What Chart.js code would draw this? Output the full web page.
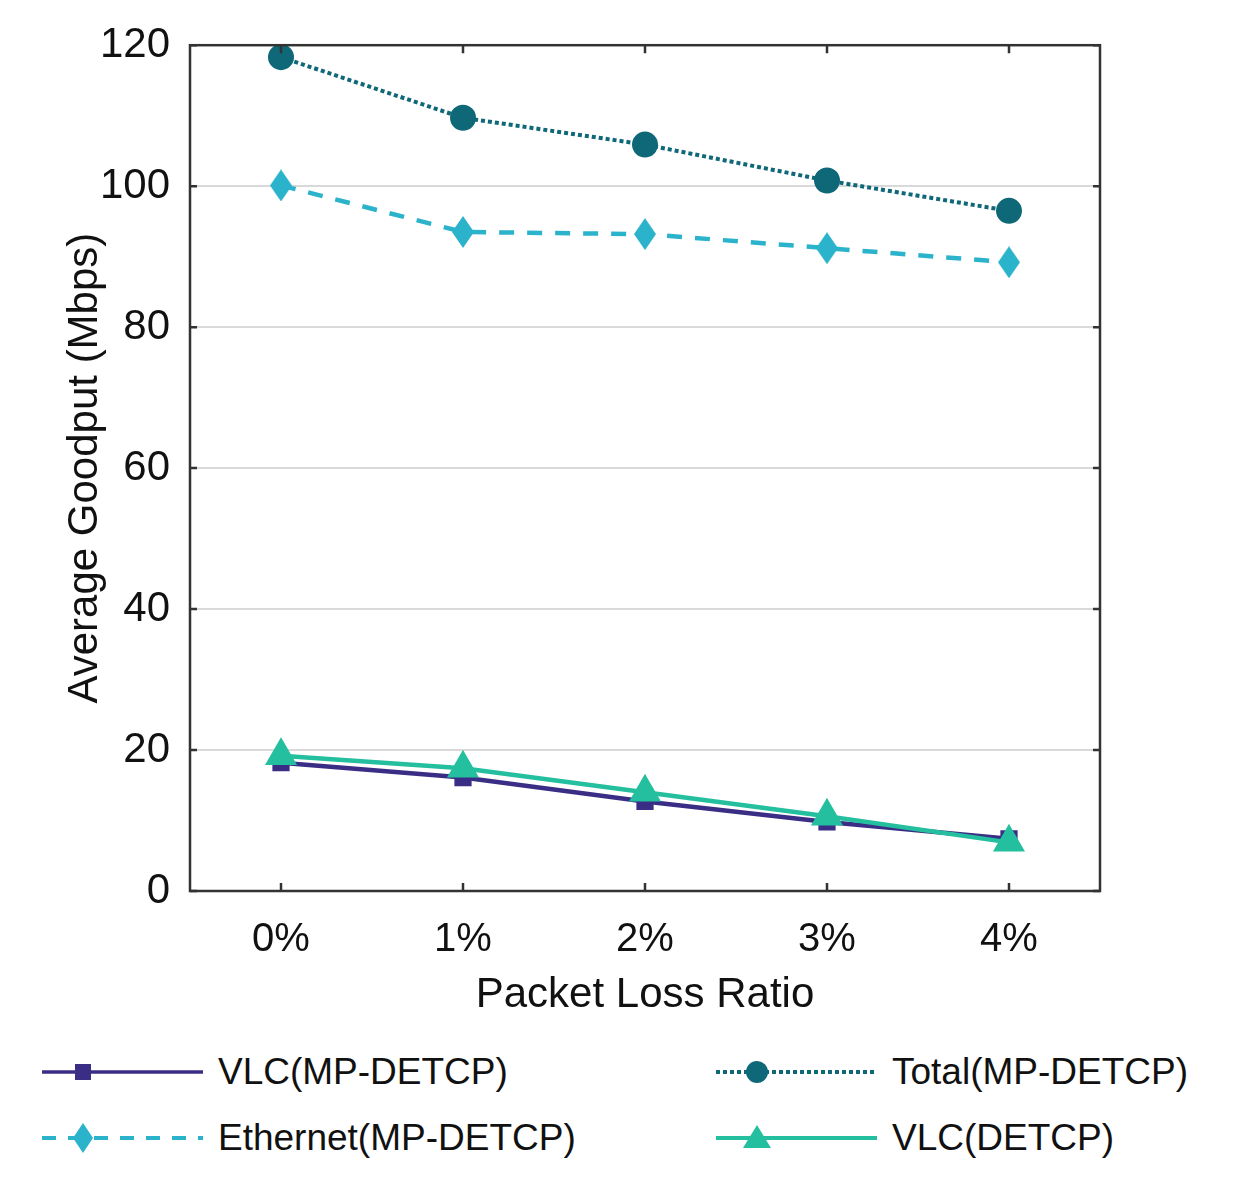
<!DOCTYPE html>
<html lang="en">
<head>
    <meta charset="UTF-8">
    <title>Average Goodput vs Packet Loss Ratio</title>
    <script src="https://cdn.jsdelivr.net/npm/chart.js"></script>
    <style>
        body { margin: 0; background: #fff; font-family: 'Liberation Sans', Arial, sans-serif; }
        #wrap { position: relative; width: 1242px; height: 1190px; }
        #myChart { position: absolute; left: 0; top: 0; }
        .leg { position: absolute; display: flex; align-items: center; height: 50px; font-size: 37px; color: #111; }
        .leg svg { margin-right: 15px; }
    </style>
</head>
<body>
<div id="wrap">
    <canvas id="myChart" width="1242" height="1040"></canvas>
    <div class="leg" style="left:42px; top:1047px;">
        <svg width="161" height="50"><line x1="0" y1="25" x2="161" y2="25" stroke="#3a2d85" stroke-width="3.5"/><rect x="33" y="17" width="16" height="16" fill="#3a2d85"/></svg>
        <span>VLC(MP-DETCP)</span>
    </div>
    <div class="leg" style="left:42px; top:1113px;">
        <svg width="161" height="50"><line x1="0" y1="25" x2="161" y2="25" stroke="#2ab3cb" stroke-width="4" stroke-dasharray="14 12"/><polygon points="41,10 51,25 41,40 31,25" fill="#2ab3cb"/></svg>
        <span>Ethernet(MP-DETCP)</span>
    </div>
    <div class="leg" style="left:716px; top:1047px;">
        <svg width="161" height="50"><line x1="0" y1="25" x2="161" y2="25" stroke="#0f6878" stroke-width="4" stroke-dasharray="4 3"/><circle cx="41" cy="25" r="11" fill="#0f6878"/></svg>
        <span>Total(MP-DETCP)</span>
    </div>
    <div class="leg" style="left:716px; top:1113px;">
        <svg width="161" height="50"><line x1="0" y1="25" x2="161" y2="25" stroke="#24bf9e" stroke-width="4"/><polygon points="41,12 55,35 27,35" fill="#24bf9e"/></svg>
        <span>VLC(DETCP)</span>
    </div>
</div>

<script>
    const lossRatios = ['0%', '1%', '2%', '3%', '4%'];
    const vlcMp = [18.2, 16.1, 12.7, 9.8, 7.4];
    const ethernetMp = [100.1, 93.5, 93.2, 91.2, 89.2];
    const totalMp = [118.3, 109.7, 105.9, 100.8, 96.5];
    const vlcDetcp = [19.2, 17.4, 14.0, 10.6, 6.9];
    const yTicks = [0, 20, 40, 60, 80, 100, 120];

    const FONT = "'Liberation Sans', Arial, sans-serif";

    // tall narrow diamond marker
    const diamond = document.createElement('canvas');
    diamond.width = 22; diamond.height = 32;
    const dctx = diamond.getContext('2d');
    dctx.fillStyle = '#2ab3cb';
    dctx.beginPath();
    dctx.moveTo(11, 0); dctx.lineTo(22, 16); dctx.lineTo(11, 32); dctx.lineTo(0, 16);
    dctx.closePath(); dctx.fill();

    // frame box and inward tick marks
    const frame = {
        id: 'frame',
        afterDraw(chart) {
            const c = chart.ctx, a = chart.chartArea;
            const xs = chart.scales.x, ys = chart.scales.y;
            c.save();
            c.strokeStyle = '#333';
            c.lineWidth = 2.5;
            c.strokeRect(a.left, a.top, a.right - a.left, a.bottom - a.top);
            c.beginPath();
            ys.ticks.forEach((t, i) => {
                const y = ys.getPixelForTick(i);
                c.moveTo(a.left, y); c.lineTo(a.left + 7, y);
                c.moveTo(a.right, y); c.lineTo(a.right - 7, y);
            });
            xs.ticks.forEach((t, i) => {
                const x = xs.getPixelForTick(i);
                c.moveTo(x, a.bottom); c.lineTo(x, a.bottom - 8);
                c.moveTo(x, a.top); c.lineTo(x, a.top + 8);
            });
            c.stroke();
            c.restore();
        }
    };

    const ctx = document.getElementById('myChart').getContext('2d');
    const chart = new Chart(ctx, {
        type: 'line',
        data: {
            labels: lossRatios,
            datasets: [
                {
                    label: 'VLC(MP-DETCP)',
                    data: vlcMp,
                    borderColor: '#3a2d85',
                    backgroundColor: '#3a2d85',
                    borderWidth: 4.5,
                    pointStyle: 'rect',
                    pointRadius: 9,
                    order: 1
                },
                {
                    label: 'Total(MP-DETCP)',
                    data: totalMp,
                    borderColor: '#0f6878',
                    backgroundColor: '#0f6878',
                    borderWidth: 4,
                    borderDash: [4, 3],
                    pointStyle: 'circle',
                    pointRadius: 11,
                    order: 0
                },
                {
                    label: 'Ethernet(MP-DETCP)',
                    data: ethernetMp,
                    borderColor: '#2ab3cb',
                    backgroundColor: '#2ab3cb',
                    borderWidth: 4.5,
                    borderDash: [15, 13],
                    pointStyle: diamond,
                    order: 0
                },
                {
                    label: 'VLC(DETCP)',
                    data: vlcDetcp,
                    borderColor: '#24bf9e',
                    backgroundColor: '#24bf9e',
                    borderWidth: 4.5,
                    pointStyle: 'triangle',
                    pointRadius: 14,
                    order: 0
                }
            ]
        },
        options: {
            responsive: false,
            animation: false,
            layout: { padding: { left: 0, top: 42, right: 142, bottom: 19 } },
            plugins: {
                legend: { display: false },
                tooltip: { enabled: false }
            },
            elements: {
                line: { tension: 0 },
                point: { borderWidth: 0 }
            },
            scales: {
                x: {
                    offset: true,
                    afterFit: (s) => { s.height = 130; },
                    grid: { display: false, drawTicks: false },
                    border: { display: false },
                    ticks: { color: '#111', padding: 25, font: { family: FONT, size: 40 } },
                    title: {
                        display: true,
                        text: 'Packet Loss Ratio',
                        color: '#111',
                        padding: { top: 0, bottom: 0 },
                        font: { family: FONT, size: 42 }
                    }
                },
                y: {
                    min: 0,
                    max: 120,
                    afterBuildTicks: (s) => { s.ticks = yTicks.map(v => ({ value: v })); },
                    afterFit: (s) => { s.width = 190; },
                    grid: { color: '#d9d9d9', lineWidth: 2, drawTicks: false },
                    border: { display: false },
                    ticks: { color: '#111', padding: 20, font: { family: FONT, size: 42 } },
                    title: {
                        display: true,
                        text: 'Average Goodput (Mbps)',
                        color: '#111',
                        padding: { top: 60, bottom: 0 },
                        font: { family: FONT, size: 42 }
                    }
                }
            }
        },
        plugins: [frame]
    });
</script>
</body>
</html>
